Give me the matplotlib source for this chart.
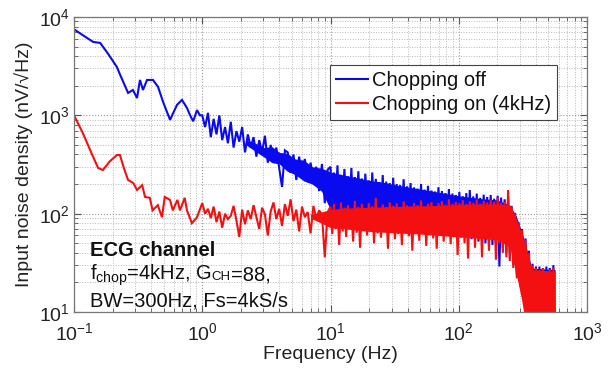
import numpy as np
import matplotlib
matplotlib.use("Agg")
import matplotlib.pyplot as plt
from matplotlib.ticker import LogLocator, NullFormatter, LogFormatterMathtext
from matplotlib.transforms import IdentityTransform

# ---------------- data ----------------
# Chopping off (blue): smooth low-frequency part
blue_lo_f = [0.1, 0.12, 0.141, 0.16, 0.185, 0.216, 0.229, 0.264, 0.288, 0.31,
             0.327, 0.345, 0.371, 0.413, 0.452, 0.495, 0.561, 0.636, 0.695, 0.76,
             0.8, 0.85, 0.91, 0.96]
blue_lo_v = [7500, 6400, 5580, 5450, 4200, 3100, 2580, 1690, 1810, 1500,
             2290, 1810, 2290, 2290, 1950, 1370, 900, 1280, 1435, 1190,
             1015, 870, 1130, 1000]
# 1-10 Hz
blue_mid_v = [1000, 760, 1060, 600, 920, 640, 1000, 560, 760, 520,
              860, 470, 690, 540, 760, 420, 640, 470, 600, 380,
              560, 420, 620, 330, 500, 360, 470, 290, 187, 440,
              420, 260, 400, 220, 380, 250, 360, 210, 330, 230,
              300, 170, 320, 128, 280]
# 10-564 Hz
blue_hi_v = [300, 120, 262, 140, 310, 105, 248, 150, 285, 118,
             240, 128, 292, 100, 236, 135, 270, 110, 228, 96,
             255, 122, 218, 104, 262, 92, 226, 118, 210, 95,
             247, 86, 212, 108, 205, 90, 232, 100, 200, 84,
             196, 94, 224, 82, 190, 98, 205, 78, 185, 88,
             180, 80, 200, 74, 176, 86, 192, 70, 172, 78,
             168, 72, 186, 66, 170, 80, 162, 68, 178, 62,
             160, 70, 155, 60, 166, 66, 150, 58, 162, 60,
             174, 55, 150, 58, 160, 52, 145, 55, 156, 50,
             148, 52, 155, 48, 142, 50, 152, 29, 146, 45,
             140, 40, 150, 35, 120, 30, 102, 24, 82, 19,
             70, 14, 56, 10, 42, 7, 31, 5, 29, 4,
             29, 4, 28, 4, 29, 4, 28, 4, 30, 4]
# dense core of the blue noise band
blue_band_f = [2.2, 2.6, 3.0, 3.5, 4.0, 4.6, 5.3, 6.2, 7.2, 8.5, 10, 13, 16, 20,
               26, 35, 50, 70, 100, 150, 200, 250, 280, 300, 320, 340, 370, 564]
blue_band_top = [560, 520, 470, 480, 420, 410, 360, 350, 300, 290, 265, 245, 232, 218,
                 208, 192, 178, 165, 152, 142, 138, 122, 95, 74, 57, 43, 28, 27]
blue_band_bot = [500, 430, 380, 330, 320, 270, 250, 215, 200, 170, 110, 100, 95, 90,
                 88, 84, 80, 76, 72, 66, 60, 50, 28, 18, 12, 8, 4, 3]

# Chopping on (red)
red_lo_f = [0.1, 0.117, 0.135, 0.154, 0.168, 0.19, 0.216, 0.228, 0.245, 0.264,
            0.29, 0.31, 0.34, 0.358, 0.39, 0.41, 0.45, 0.485, 0.51, 0.56,
            0.59, 0.64, 0.67, 0.73, 0.76, 0.83, 0.91]
red_lo_v = [1000, 663, 430, 292, 278, 340, 395, 395, 290, 220,
            205, 174, 195, 148, 145, 108, 122, 92, 148, 138,
            108, 138, 108, 145, 108, 80, 92]
red_mid_v = [128, 100, 112, 90, 118, 82, 105, 72, 100, 88,
             95, 120, 85, 58, 110, 78, 108, 88, 122, 92,
             70, 115, 98, 60, 105, 130, 88, 112, 75, 125,
             95, 140, 84, 110, 66, 118, 92, 104, 63, 120,
             90, 108, 98, 36, 104]
red_hi_v = [118, 62, 125, 70, 110, 48, 130, 66, 115, 58,
            122, 72, 108, 52, 135, 64, 117, 45, 126, 68,
            112, 60, 128, 75, 119, 50, 145, 63, 114, 57,
            124, 70, 116, 44, 130, 66, 120, 55, 127, 62,
            113, 48, 133, 68, 121, 59, 118, 42, 128, 65,
            122, 53, 136, 70, 117, 47, 126, 61, 131, 56,
            119, 44, 128, 66, 134, 52, 123, 60, 140, 49,
            125, 63, 131, 38, 128, 57, 137, 50, 126, 35,
            133, 60, 129, 45, 140, 54, 127, 36, 135, 58,
            130, 42, 138, 55, 132, 34, 145, 50, 128, 40,
            132, 36, 174, 33, 118, 28, 100, 22, 80, 18,
            68, 13, 54, 9, 40, 6, 30, 4, 28, 3,
            27, 3, 28, 3, 26, 3, 27, 3, 28, 3]
# dense core of the red noise band
red_band_f = [7, 8.5, 10, 13, 20, 30, 50, 70, 100, 150, 200, 250, 270, 290, 310,
              330, 350, 370, 564]
red_band_top = [98, 104, 110, 114, 116, 118, 120, 121, 124, 125, 126, 122, 100, 80, 62,
                48, 36, 27, 26]
red_band_bot = [90, 80, 72, 70, 66, 64, 62, 60, 58, 56, 54, 46, 30, 20, 13,
                8, 5, 3, 3]

mid_f_start, mid_f_end = 1.0, 10.0
hi_f_start, hi_f_end = 10.0, 564.0

series_labels = ["Chopping off", "Chopping on (4kHz)"]
blue_color = '#0a0af0'
red_color = '#f41010'

# ---------------- build frequency axes ----------------
blue_mid_f = np.geomspace(mid_f_start, mid_f_end, len(blue_mid_v) + 1)[:-1]
red_mid_f = np.geomspace(mid_f_start, mid_f_end, len(red_mid_v) + 1)[:-1]
blue_hi_f = np.geomspace(hi_f_start, hi_f_end, len(blue_hi_v))
red_hi_f = np.geomspace(hi_f_start, hi_f_end, len(red_hi_v))

blue_f = np.concatenate([blue_lo_f, blue_mid_f, blue_hi_f])
blue_v = np.concatenate([blue_lo_v, blue_mid_v, blue_hi_v])
red_f = np.concatenate([red_lo_f, red_mid_f, red_hi_f])
red_v = np.concatenate([red_lo_v, red_mid_v, red_hi_v])

# ---------------- style ----------------
plt.rcParams['font.family'] = ['Liberation Sans', 'DejaVu Sans']
plt.rcParams['mathtext.fontset'] = 'custom'
plt.rcParams['mathtext.rm'] = 'Liberation Sans'
plt.rcParams['mathtext.it'] = 'Liberation Sans:italic'
plt.rcParams['mathtext.bf'] = 'Liberation Sans:bold'

fig = plt.figure(figsize=(6.14, 3.70), dpi=100)
ax = fig.add_axes([74 / 614, 1 - 312 / 370, (587 - 74) / 614, (312 - 17) / 370])

ax.fill_between(blue_band_f, blue_band_bot, blue_band_top, color=blue_color, lw=0, zorder=2)
ax.plot(blue_f, blue_v, color=blue_color, lw=1.5, label=series_labels[0],
        solid_joinstyle='miter', zorder=3)
ax.fill_between(red_band_f, red_band_bot, red_band_top, color=red_color, lw=0, zorder=4)
ax.plot(red_f, red_v, color=red_color, lw=1.5, label=series_labels[1],
        solid_joinstyle='miter', zorder=5)

ax.set_xscale('log')
ax.set_yscale('log')
ax.set_xlim(0.1, 1000)
ax.set_ylim(10, 1e4)

ax.xaxis.set_major_locator(LogLocator(base=10, numticks=10))
ax.yaxis.set_major_locator(LogLocator(base=10, numticks=10))
ax.xaxis.set_minor_locator(LogLocator(base=10, subs=np.arange(2, 10), numticks=20))
ax.yaxis.set_minor_locator(LogLocator(base=10, subs=np.arange(2, 10), numticks=20))
ax.xaxis.set_major_formatter(LogFormatterMathtext())
ax.yaxis.set_major_formatter(LogFormatterMathtext())
ax.xaxis.set_minor_formatter(NullFormatter())
ax.yaxis.set_minor_formatter(NullFormatter())

ax.grid(True, which='major', linestyle=':', color='#9a9a9a', linewidth=0.8)
ax.grid(True, which='minor', linestyle=':', color='#b8b8b8', linewidth=0.7)
ax.set_axisbelow(True)

ax.tick_params(which='both', direction='in', top=True, right=True, colors='#555555',
               labelcolor='#222222')
ax.tick_params(which='major', length=5, width=0.8, labelsize=14)
ax.tick_params(which='minor', length=3, width=0.6)
ax.tick_params(axis='x', which='major', pad=7)
ax.tick_params(axis='y', which='major', pad=3)
for s in ax.spines.values():
    s.set_color('#777777')
    s.set_linewidth(0.9)
    s.set_zorder(6)

ax.set_xlabel("Frequency (Hz)", fontsize=14, color='#222222', labelpad=2)
ax.set_ylabel("Input noise density (nV/\u221aHz)", fontsize=14, color='#222222', labelpad=4)

leg = ax.legend(loc='upper left', bbox_to_anchor=(0.499, 0.837), borderaxespad=0,
                fontsize=14.5, frameon=True, fancybox=False, framealpha=1,
                edgecolor='#444444', handlelength=1.6, handletextpad=0.2,
                labelspacing=0.25, borderpad=0.3)
leg.get_frame().set_linewidth(0.8)
leg.set_zorder(10)
for t in leg.get_texts():
    t.set_color('#111111')

# ---------------- annotation text block ----------------
fig.canvas.draw()
renderer = fig.canvas.get_renderer()


def chain(x_ax, y_ax, parts):
    x0, y0 = ax.transAxes.transform((x_ax, y_ax))
    cur = x0
    for s, kw in parts:
        t = ax.text(cur, y0, s, transform=IdentityTransform(), va='baseline', ha='left',
                    color='#111111', zorder=11, **kw)
        bb = t.get_window_extent(renderer=renderer)
        cur = bb.x1


chain(0.031, 0.19, [("ECG channel", dict(fontsize=14.5, fontweight='bold'))])
chain(0.031, 0.108, [(r"f$_{\mathregular{chop}}$=4kHz, G", dict(fontsize=14.5)),
                     ("CH", dict(fontsize=9.5)),
                     ("=88,", dict(fontsize=14.5))])
chain(0.031, 0.017, [("BW=300Hz, Fs=4kS/s", dict(fontsize=14.5))])

fig.savefig("out.png", dpi=100)
